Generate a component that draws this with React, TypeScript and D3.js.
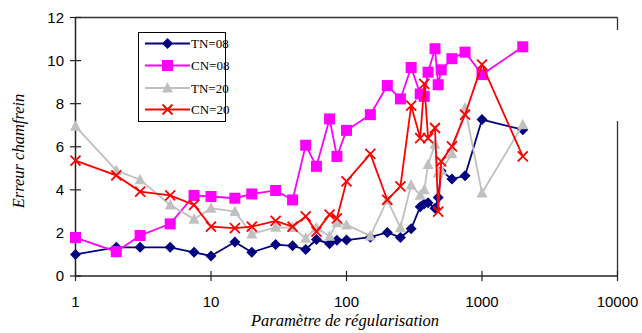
import React from "react";
import * as d3 from "d3";

const X = [1, 2, 3, 5, 7.5, 10, 15, 20, 30, 40, 50, 60, 75, 85, 100, 150, 200, 250, 300, 350, 375, 400, 450, 475, 500, 600, 750, 1000, 2000];
const TN08 = [1.0, 1.33, 1.33, 1.33, 1.10, 0.93, 1.58, 1.10, 1.46, 1.40, 1.23, 1.69, 1.50, 1.66, 1.67, 1.80, 2.02, 1.79, 2.19, 3.22, 3.35, 3.40, 3.15, 3.64, 4.88, 4.50, 4.65, 7.26, 6.79];
const CN08 = [1.78, 1.13, 1.88, 2.42, 3.74, 3.69, 3.61, 3.81, 3.97, 3.53, 6.07, 5.09, 7.29, 5.55, 6.76, 7.49, 8.84, 8.22, 9.68, 8.45, 8.34, 9.46, 10.55, 8.88, 9.57, 10.09, 10.39, 9.35, 10.64];
const TN20 = [6.95, 4.90, 4.47, 3.30, 2.64, 3.15, 2.99, 1.95, 2.26, 2.25, 1.75, 2.24, 1.85, 2.47, 2.37, 1.86, 3.53, 2.24, 4.23, 3.75, 4.00, 5.18, 6.12, 4.78, 4.90, 5.67, 7.80, 3.85, 7.02];
const CN20 = [5.36, 4.67, 3.92, 3.74, 3.30, 2.29, 2.22, 2.29, 2.56, 2.29, 2.77, 2.06, 2.85, 2.68, 4.39, 5.67, 3.53, 4.16, 7.91, 6.40, 8.92, 6.40, 6.87, 2.99, 5.32, 6.02, 7.49, 9.81, 5.55];

const SERIES_NAMES = ["TN=08", "CN=08", "TN=20", "CN=20"];
const SERIES_COLORS = ["#000080", "#FF00FF", "#C0C0C0", "#FF0000"];
const SERIES_MARKERS = ["diamond", "square", "triangle", "cross"];
const X_TICKS = [1, 10, 100, 1000, 10000];
const Y_TICKS = [0, 2, 4, 6, 8, 10, 12];
const X_TITLE = "Paramètre de régularisation";
const Y_TITLE = "Erreur chamfrein";

function Marker({ type, x, y, color }: { type: string; x: number; y: number; color: string }) {
  if (type === "diamond") {
    const r = 5.5;
    return <path d={`M${x},${y - r}L${x + r},${y}L${x},${y + r}L${x - r},${y}Z`} fill={color} />;
  }
  if (type === "square") {
    const s = 5.5;
    return <rect x={x - s} y={y - s} width={2 * s} height={2 * s} fill={color} />;
  }
  if (type === "triangle") {
    return <path d={`M${x},${y - 6}L${x + 5.5},${y + 4.5}L${x - 5.5},${y + 4.5}Z`} fill={color} />;
  }
  const r = 5;
  return (
    <path d={`M${x - r},${y - r}L${x + r},${y + r}M${x + r},${y - r}L${x - r},${y + r}`} stroke={color} strokeWidth={1.8} fill="none" />
  );
}

export default function App() {
  const W = 642, H = 333;
  const x = d3.scaleLog().domain([1, 10000]).range([75.5, 617.5]);
  const y = d3.scaleLinear().domain([0, 12]).range([276, 17.5]);
  const data = [TN08, CN08, TN20, CN20];
  const line = d3.line<number>().x((_, i) => x(X[i])).y((d) => y(d));
  const legendRows = [43.5, 65.5, 88, 109.5];
  return (
    <svg width={W} height={H} style={{ position: "absolute", left: 0, top: 0 }}>
      <rect x={0} y={0} width={W} height={H} fill="#fff" />
      <line x1={x(1)} x2={x(10000)} y1={y(12)} y2={y(12)} stroke="#333" strokeWidth={1.3} />
      <line x1={x(10000)} x2={x(10000)} y1={y(12)} y2={30} stroke="#333" strokeWidth={1.3} />
      <line x1={x(10000)} x2={x(10000)} y1={121} y2={y(0)} stroke="#333" strokeWidth={1.3} />
      <line x1={x(1)} x2={x(1)} y1={y(12)} y2={y(0)} stroke="#222" strokeWidth={1.5} />
      <line x1={x(1)} x2={x(10000)} y1={y(0)} y2={y(0)} stroke="#222" strokeWidth={1.5} />
      {Y_TICKS.map((t) => (
        <g key={"y" + t}>
          <line x1={x(1) - 5.5} x2={x(1) + 5.5} y1={y(t)} y2={y(t)} stroke="#222" strokeWidth={1.2} />
          <text x={64} y={y(t) + 5} textAnchor="end" fontFamily="Liberation Sans, Arial" fontSize={15}>{t}</text>
        </g>
      ))}
      {X_TICKS.map((t) => (
        <g key={"x" + t}>
          <line x1={x(t)} x2={x(t)} y1={y(0) - 5} y2={y(0) + 5} stroke="#222" strokeWidth={1.2} />
          <text x={x(t)} y={307} textAnchor="middle" fontFamily="Liberation Sans, Arial" fontSize={15}>{t}</text>
        </g>
      ))}
      <text x={345} y={326} textAnchor="middle" fontFamily="Liberation Serif, Times New Roman" fontStyle="italic" fontSize={16.5}>{X_TITLE}</text>
      <text transform="translate(24,151) rotate(-90)" textAnchor="middle" fontFamily="Liberation Serif, Times New Roman" fontStyle="italic" fontSize={16.5}>{Y_TITLE}</text>
      {data.map((vals, si) => (
        <g key={si}>
          <path d={line(vals) || ""} fill="none" stroke={SERIES_COLORS[si]} strokeWidth={1.8} />
          {vals.map((v, i) => (
            <Marker key={i} type={SERIES_MARKERS[si]} x={x(X[i])} y={y(v)} color={SERIES_COLORS[si]} />
          ))}
        </g>
      ))}
      <rect x={138.5} y={32.5} width={87} height={89} fill="#fff" stroke="#000" strokeWidth={1} />
      {SERIES_NAMES.map((n, i) => (
        <g key={n}>
          <line x1={145} x2={190} y1={legendRows[i]} y2={legendRows[i]} stroke={SERIES_COLORS[i]} strokeWidth={1.8} />
          <Marker type={SERIES_MARKERS[i]} x={167.5} y={legendRows[i]} color={SERIES_COLORS[i]} />
          <text x={191} y={legendRows[i] + 4.5} fontFamily="Liberation Serif, Times New Roman" fontSize={13}>{n}</text>
        </g>
      ))}
    </svg>
  );
}
